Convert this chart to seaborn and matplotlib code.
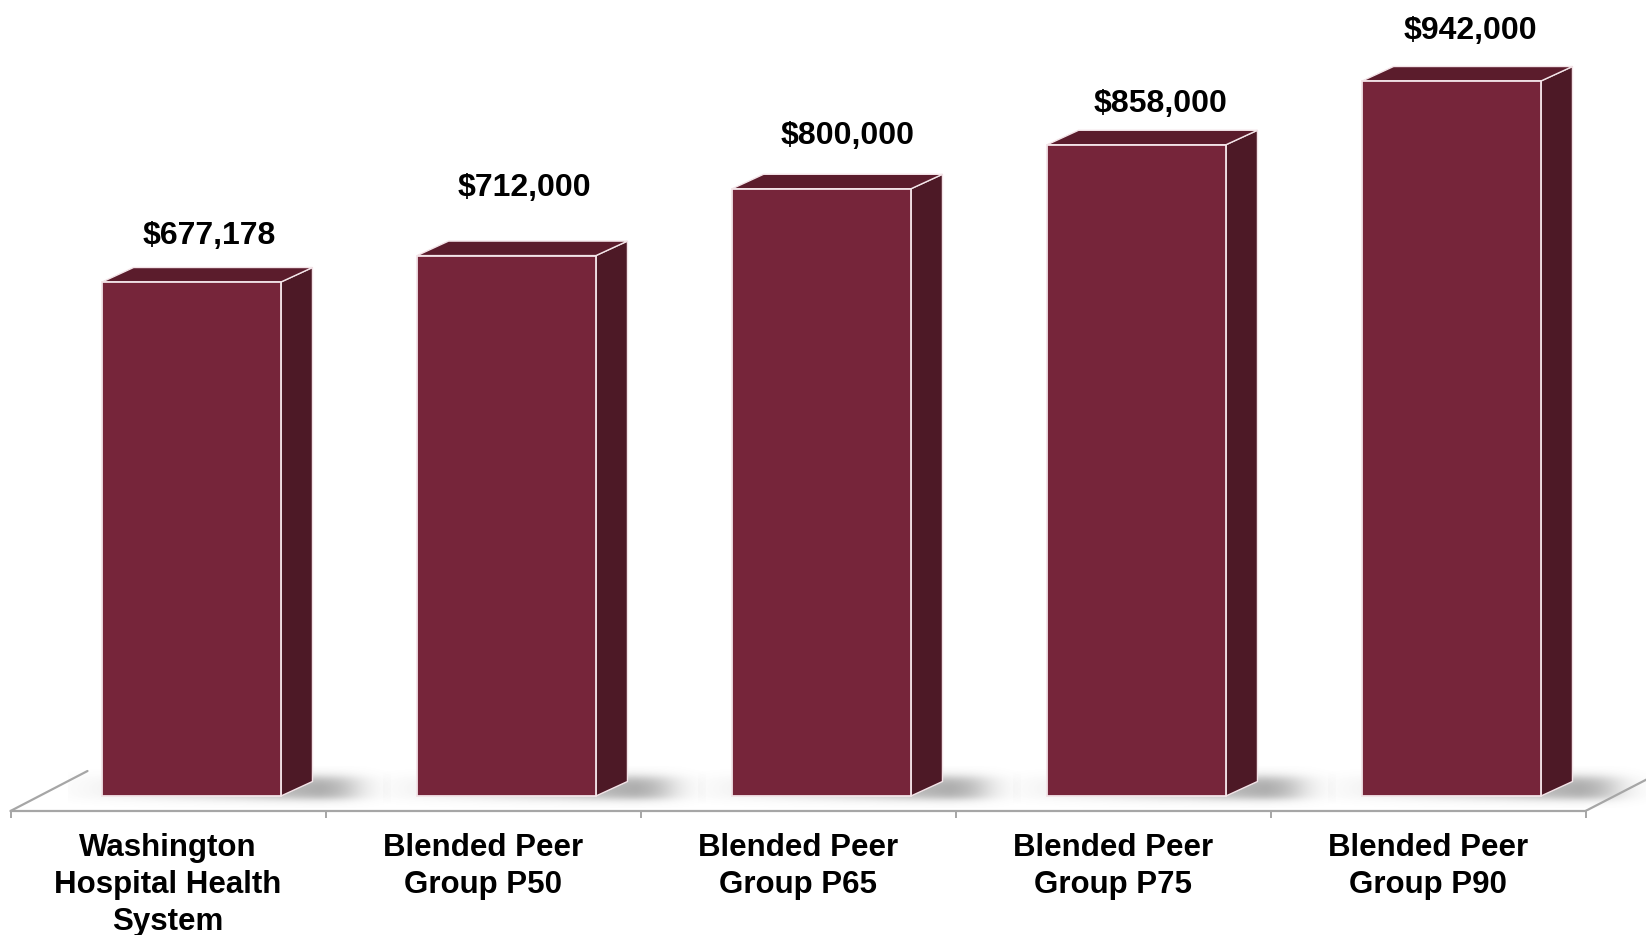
import numpy as np
import pandas as pd
import matplotlib
matplotlib.use("Agg")
import matplotlib.pyplot as plt
import seaborn as sns
from matplotlib.patches import Polygon

# ---------------- data ----------------
categories = [
    "Washington\nHospital Health\nSystem",
    "Blended Peer\nGroup P50",
    "Blended Peer\nGroup P65",
    "Blended Peer\nGroup P75",
    "Blended Peer\nGroup P90",
]
values = [677178, 712000, 800000, 858000, 942000]
value_labels = ["$677,178", "$712,000", "$800,000", "$858,000", "$942,000"]

# label nudges (layout only, px)
label_dx_px = [2, 2, 10, 8, 3]
label_dy_px = [1, 23, 8, -4, 5]

# ---------------- style ----------------
FRONT = "#76253A"
SIDE = "#4D1926"
TOP = "#5B1C2C"
EDGE = "#F3E4E8"
AXIS = "#A6A6A6"

W, H = 1646, 935
sns.set_theme(style="white")
plt.rcParams["font.family"] = ["Liberation Sans", "DejaVu Sans"]

fig = plt.figure(figsize=(W / 100, H / 100), dpi=100)
floor_px = 811   # floor line, px from top
base_px = 796    # bar base, px from top
ax = fig.add_axes([0, (H - floor_px) / H, 1, floor_px / H])

df = pd.DataFrame({"cat": categories, "val": values})
sns.barplot(data=df, x="cat", y="val", color=FRONT, saturation=1,
            width=0.568, edgecolor=EDGE, linewidth=1.3, ax=ax, zorder=3)

# layout scales
step = 315.0                 # px per category
cat0 = 168.0                 # px of first category centre
xpp = 1 / step               # data units per px (x)
ypp = 1317.5                 # data units per px (y)
ylim = (-(floor_px - base_px) * ypp, base_px * ypp)

shift = 23.5 * xpp
dx, dy = 31.5 * xpp, 14.5 * ypp
sig = lambda z: 1 / (1 + np.exp(-z))

for i, p in enumerate(ax.patches):
    p.set_x(p.get_x() + shift)
    x0, w, h = p.get_x(), p.get_width(), p.get_height()
    xr = x0 + w
    side = Polygon([(xr, 0), (xr + dx, dy), (xr + dx, h + dy), (xr, h)],
                   closed=True, facecolor=SIDE, edgecolor=EDGE, lw=1.0, zorder=2)
    top = Polygon([(x0, h), (x0 + dx, h + dy), (xr + dx, h + dy), (xr, h)],
                  closed=True, facecolor=TOP, edgecolor=EDGE, lw=1.0, zorder=2)
    ax.add_patch(side)
    ax.add_patch(top)

    # soft floor shadow
    wpx = w / xpp
    upx = np.linspace(-80, wpx + 110, 380)
    vpx = np.linspace(-12, 30, 90)
    U, V = np.meshgrid(upx, vpx)
    fx = sig((U + 35) / 12) * sig((wpx + 72 - U) / 12)
    fy = sig((V + 3) / 2.5) * sig((19 - V) / 3)
    ramp = np.clip(0.08 + 0.92 * ((U + 35) / (wpx + 75)) ** 1.5, 0, 1)
    alpha = 0.6 * fx * fy * ramp
    img = np.zeros(U.shape + (4,))
    img[..., :3] = 0.42
    img[..., 3] = alpha
    ax.imshow(img, origin="lower", aspect="auto", zorder=1,
              extent=(x0 + upx[0] * xpp, x0 + upx[-1] * xpp,
                      vpx[0] * ypp, vpx[-1] * ypp), interpolation="bilinear")

    ax.text(x0 + (w + dx) / 2 + label_dx_px[i] * xpp,
            h + dy + (22.5 + label_dy_px[i]) * ypp, value_labels[i],
            ha="center", va="baseline", fontsize=23, fontweight="bold",
            color="black", zorder=5)

ax.set_xlim(-cat0 / step, (W - cat0) / step)
ax.set_ylim(*ylim)
ax.set_aspect("auto")

# axis styling
for s in ["top", "right", "left"]:
    ax.spines[s].set_visible(False)
ax.spines["bottom"].set_color(AXIS)
ax.spines["bottom"].set_linewidth(1.6)
ax.spines["bottom"].set_bounds(-0.5, len(categories) - 0.5)
ax.set_yticks([])
ax.set_xlabel("")
ax.set_ylabel("")
ax.set_xticks(range(len(categories)))
ax.set_xticklabels(categories, fontsize=22.5, fontweight="bold",
                   linespacing=1.29, color="black")
ax.set_xticks(np.arange(-0.5, len(categories), 1.0), minor=True)
ax.tick_params(axis="x", which="major", length=0, pad=16)
ax.tick_params(axis="x", which="minor", length=5, width=1.4,
               color=AXIS, direction="out", bottom=True)

# floor perspective edges
yb = ylim[0]
ax.plot([-0.5, -0.5 + 77 * xpp], [yb, yb + 40 * ypp], color=AXIS, lw=1.6,
        clip_on=False, zorder=1)
xe = len(categories) - 0.5
ax.plot([xe, xe + 62 * xpp], [yb, yb + 32 * ypp], color=AXIS, lw=1.6,
        clip_on=True, zorder=1)

fig.savefig("out.png", dpi=100)
